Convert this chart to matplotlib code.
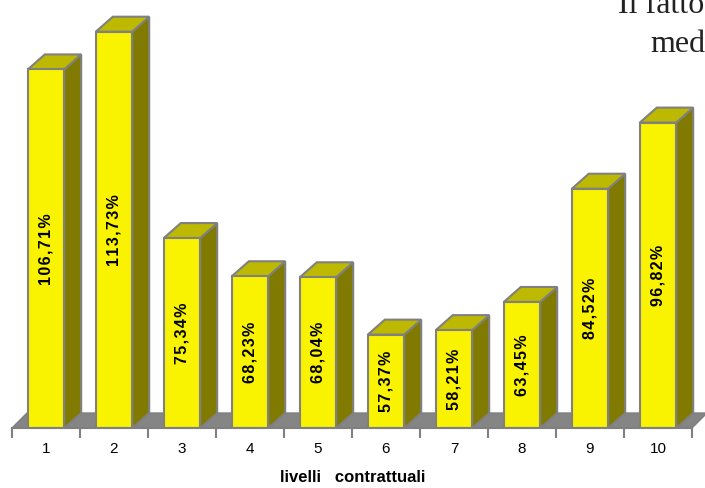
import matplotlib
matplotlib.use("Agg")
import matplotlib.pyplot as plt
from matplotlib.patches import Polygon
import numpy as np

categories = ["1", "2", "3", "4", "5", "6", "7", "8", "9", "10"]
values = [106.71, 113.73, 75.34, 68.23, 68.04, 57.37, 58.21, 63.45, 84.52, 96.82]
labels = ["106,71%", "113,73%", "75,34%", "68,23%", "68,04%",
          "57,37%", "58,21%", "63,45%", "84,52%", "96,82%"]
xlabel = "livelli   contrattuali"
title_lines = ["Il fatto", "med"]

W, H = 705, 488
fig = plt.figure(figsize=(W / 100, H / 100), dpi=100)
ax = fig.add_axes([12 / W, 60 / H, 680 / W, 430 / H])
ymin, ymax = 40, 120
ax.set_xlim(0.5, len(categories) + 0.5)
ax.set_ylim(ymin, ymax)

FRONT = "#F9F200"
TOP = "#BDB800"
SIDE = "#807A00"
EDGE = "#808080"

# depth offset in pixels converted to data units
p0 = ax.transData.transform((0, ymin))
p1 = ax.transData.transform((1, ymin + 1))
ppx, ppy = p1[0] - p0[0], p1[1] - p0[1]
ddx, ddy = 17 / ppx, 15 / ppy
fdx, fdy = 15 / ppx, 15 / ppy

# floor
x0, x1 = 0.5, len(categories) + 0.5
ax.add_patch(Polygon([(x0, ymin), (x1, ymin), (x1 + fdx, ymin + fdy), (x0 + fdx, ymin + fdy)],
                     closed=True, facecolor="#858585", edgecolor=EDGE, lw=1.0, clip_on=False, zorder=1))

HAIR = "\u200a"
bw = 0.535
xs = np.arange(1, len(categories) + 1)
for i, (x, v) in enumerate(zip(xs, values)):
    l, r = x - bw / 2, x + bw / 2
    side = [(r, ymin), (r, v), (r + ddx, v + ddy), (r + ddx, ymin + ddy)]
    top = [(l, v), (r, v), (r + ddx, v + ddy), (l + ddx, v + ddy)]
    ax.add_patch(Polygon(side, closed=True, facecolor=SIDE, edgecolor=EDGE, lw=1.5,
                         joinstyle="miter", clip_on=False, zorder=2 + i))
    ax.add_patch(Polygon(top, closed=True, facecolor=TOP, edgecolor=EDGE, lw=1.5,
                         joinstyle="miter", clip_on=False, zorder=2 + i))
    ax.bar([x], [v - ymin], bottom=ymin, width=bw, color=FRONT, edgecolor=EDGE,
           linewidth=1.5, clip_on=False, zorder=2.5 + i)
    ax.text(x, (ymin + v) / 2, HAIR.join(labels[i]),
            rotation=90, ha="center", va="center", fontsize=11.5,
            fontweight="bold", family=["Liberation Sans", "DejaVu Sans"], color="black", zorder=20)

for s in ["top", "left", "right"]:
    ax.spines[s].set_visible(False)
ax.spines["bottom"].set_color(EDGE)
ax.spines["bottom"].set_linewidth(1.5)
ax.spines["bottom"].set_zorder(30)
ax.set_yticks([])
ax.set_xticks(np.arange(0.5, len(categories) + 1, 1))
ax.set_xticklabels([])
ax.tick_params(axis="x", which="major", length=7, width=1.5, color=EDGE, direction="out")
ax.set_xticks(xs, minor=True)
ax.set_xticklabels(categories, minor=True, fontsize=11, family="Liberation Sans")
ax.tick_params(axis="x", which="minor", length=0, pad=10)
ax.patch.set_visible(False)

fig.text(353 / W, (H - 478) / H, xlabel, ha="center", va="center", fontsize=12,
         fontweight="bold", family="Liberation Sans")
fig.text(618 / W, (H - 13) / H, title_lines[0], ha="left", va="baseline", fontsize=23,
         family="Liberation Serif", color="#222222")
fig.text(650 / W, (H - 52) / H, title_lines[1], ha="left", va="baseline", fontsize=23,
         family="Liberation Serif", color="#222222")

fig.savefig("out.png", dpi=100)
